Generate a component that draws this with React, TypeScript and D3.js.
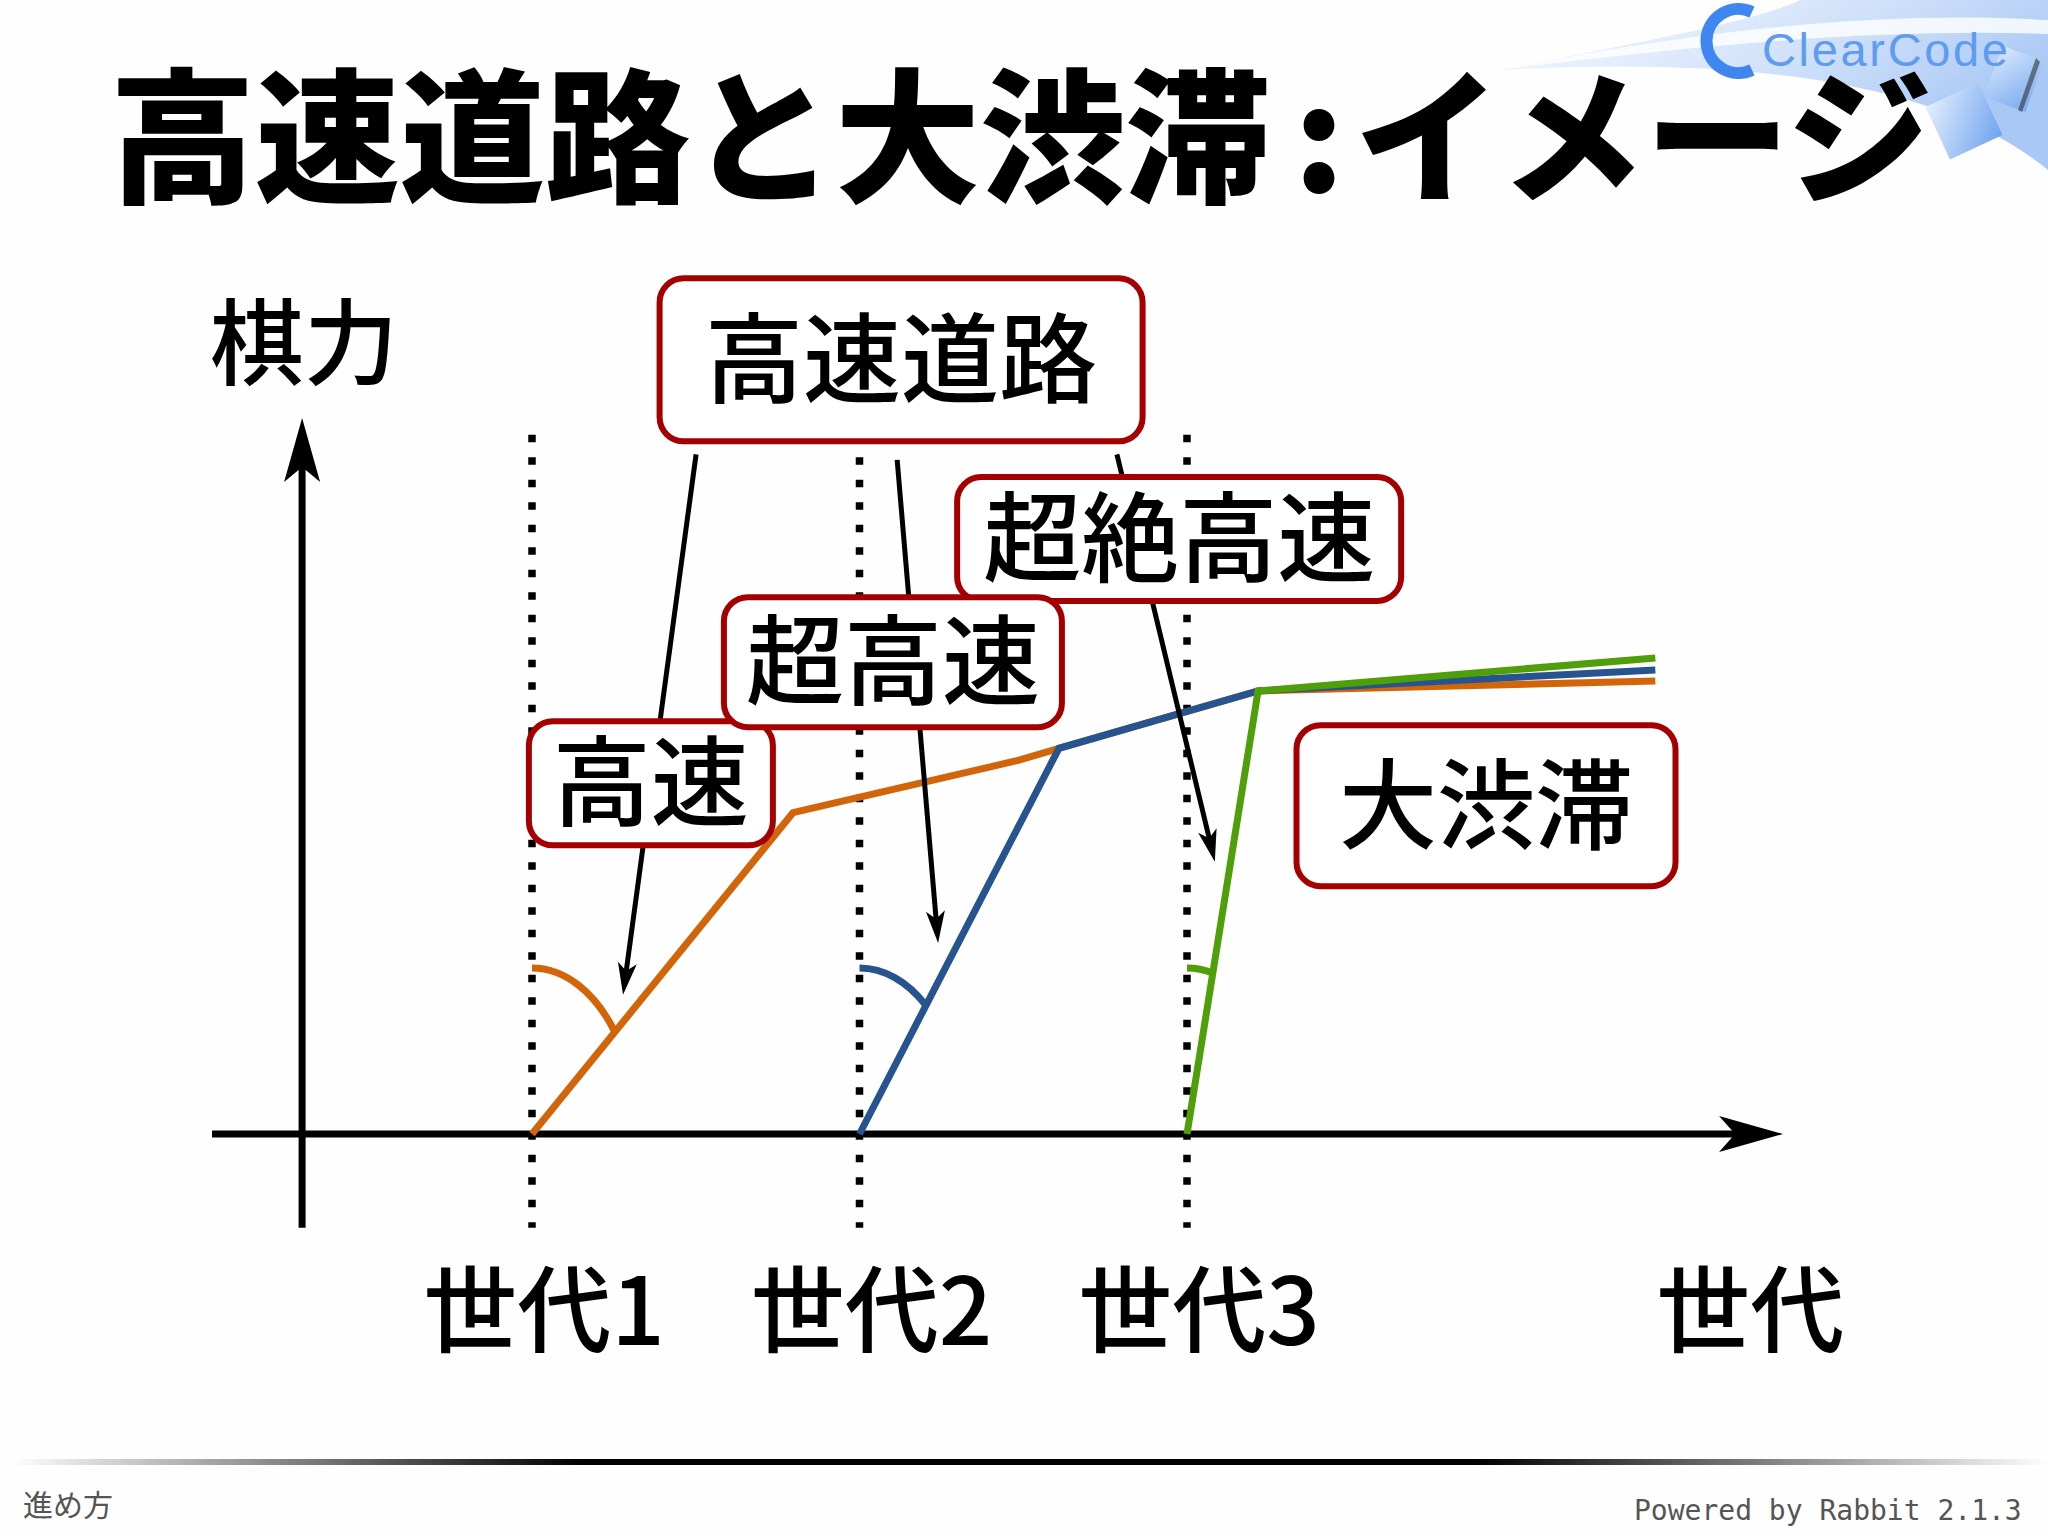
import React from "react";
import * as d3 from "d3";

// ---- data ----
const generations = [1, 2, 3];
const genLabels = ["世代1", "世代2", "世代3"];
const axisLabelX = "世代";
const axisLabelY = "棋力";

const seriesNames = ["高速", "超高速", "超絶高速"];
const orangeX = [1, 1.797, 2.487, 2.609, 3.217, 4.43];
const orangeY = [0, 45.9, 53.4, 55.1, 63.3, 64.7];
const blueX = [2, 2.609, 3.217, 4.43];
const blueY = [0, 55.1, 63.3, 66.3];
const greenX = [3, 3.217, 4.43];
const greenY = [0, 63.3, 68.0];

// callout boxes (centre in data units)
const calloutText = ["高速道路", "超絶高速", "超高速", "高速", "大渋滞"];
const calloutCX = [2.127, 2.976, 2.102, 1.363, 3.913];
const calloutCY = [110.6, 85.0, 67.4, 50.1, 46.9];
// arrows from 高速道路 to angle marks (data units)
const arrowFromX = [1.501, 2.115, 2.786];
const arrowFromY = [97.1, 96.3, 97.1];
const arrowToX = [1.278, 2.24, 3.085];
const arrowToY = [19.9, 27.3, 38.9];

// ---- layout / style ----
const W = 2048;
const H = 1536;
const colors = ["#d2640a", "#27538f", "#4f9e0a"];
const boxW = [483, 444, 338, 244, 379];
const boxH = [163, 124, 130, 124, 161];
const CJK = "'Noto Sans CJK JP', 'Noto Sans CJK SC', sans-serif";

const xScale = d3.scaleLinear().domain([1, 3]).range([532, 1187]);
const yScale = d3.scaleLinear().domain([0, 100]).range([1134, 434]);

function arrowHead(tx: number, ty: number, ux: number, uy: number, len: number, half: number, notch: number) {
  const px = -uy;
  const py = ux;
  const bx = tx - ux * len;
  const by = ty - uy * len;
  const nx = tx - ux * (len - notch);
  const ny = ty - uy * (len - notch);
  return `M${tx},${ty} L${bx + px * half},${by + py * half} L${nx},${ny} L${bx - px * half},${by - py * half} Z`;
}

export default function App() {
  const line = d3
    .line<[number, number]>()
    .x((d) => xScale(d[0]))
    .y((d) => yScale(d[1]));

  const series = [
    { xs: orangeX, ys: orangeY },
    { xs: blueX, ys: blueY },
    { xs: greenX, ys: greenY },
  ].map((s) => s.xs.map((x, i) => [x, s.ys[i]] as [number, number]));

  const rx = 105;
  const ry = 166;
  const arcs = series.map((pts) => {
    const x0 = xScale(pts[0][0]);
    const y0 = yScale(pts[0][1]);
    const dx = xScale(pts[1][0]) - x0;
    const dy = yScale(pts[1][1]) - y0;
    const t = 1 / Math.sqrt((dx / rx) ** 2 + (dy / ry) ** 2);
    const ex = x0 + dx * t;
    const ey = y0 + dy * t;
    return `M${x0},${y0 - ry} A${rx},${ry} 0 0 1 ${ex},${ey}`;
  });

  const arrows = arrowFromX.map((x, i) => {
    const x1 = xScale(x);
    const y1 = yScale(arrowFromY[i]);
    const x2 = xScale(arrowToX[i]);
    const y2 = yScale(arrowToY[i]);
    const L = Math.hypot(x2 - x1, y2 - y1);
    const ux = (x2 - x1) / L;
    const uy = (y2 - y1) / L;
    return {
      x1,
      y1,
      x2: x2 - ux * 20,
      y2: y2 - uy * 20,
      head: arrowHead(x2, y2, ux, uy, 32, 9.5, 8),
    };
  });

  const yAxisX = xScale(0.298);
  const yTip = yScale(102.3);
  const xTip = xScale(4.82);
  const x0y = yScale(0);

  return (
    <svg
      width={W}
      height={H}
      viewBox={`0 0 ${W} ${H}`}
      style={{ position: "absolute", left: 0, top: 0, background: "#fefefe" }}
    >
      <defs>
        <linearGradient id="footline" x1="0" x2="1" y1="0" y2="0">
          <stop offset="0" stopColor="#000" stopOpacity="0" />
          <stop offset="0.28" stopColor="#000" stopOpacity="1" />
          <stop offset="0.72" stopColor="#000" stopOpacity="1" />
          <stop offset="1" stopColor="#000" stopOpacity="0" />
        </linearGradient>
        <linearGradient id="swoosh" x1="0" x2="1" y1="0" y2="0.4">
          <stop offset="0" stopColor="#dce8fb" stopOpacity="0" />
          <stop offset="0.5" stopColor="#cfe0fa" stopOpacity="0.7" />
          <stop offset="1" stopColor="#a9c8f5" stopOpacity="1" />
        </linearGradient>
        <linearGradient id="sq" x1="0" x2="1" y1="0" y2="1">
          <stop offset="0" stopColor="#e3eefd" />
          <stop offset="1" stopColor="#6fa3f0" />
        </linearGradient>
      </defs>

      {/* logo background swoosh */}
      <path
        d="M1380,0 L2048,0 L2048,170 C1950,90 1780,55 1500,70 C1650,40 1760,20 1800,0 Z"
        fill="url(#swoosh)"
      />
      <path
        d="M1500,70 C1700,30 1880,10 2048,20 L2048,34 C1880,28 1700,45 1500,70 Z"
        fill="#ffffff"
        opacity={0.8}
      />
      <g>
        <rect x={1935} y={92} width={58} height={58} fill="url(#sq)" transform="rotate(-25 1964 121)" />
        <rect x={1992} y={52} width={44} height={54} fill="url(#sq)" opacity={0.8} transform="rotate(20 2014 79)" />
        <path d="M2036,58 L2018,110 L2022,112 L2040,62 Z" fill="#333" opacity={0.6} />
        <path d="M1752,12 A32,32 0 1 0 1752,70" fill="none" stroke="#3f86f0" strokeWidth={12} />
        <text
          x={1762}
          y={66}
          fontFamily="'Liberation Sans', Arial, sans-serif"
          fontSize={47}
          textLength={246}
          lengthAdjust="spacing"
          fill="#5e9cf0"
        >
          ClearCode
        </text>
      </g>

      {/* title */}
      <text y={192} fontFamily={CJK} fontWeight={900} fontSize={145} fill="#000">
        <tspan x={110}>高速道路と大渋滞</tspan>
        <tspan x={1319} textAnchor="middle">:</tspan>
        <tspan x={1355}>イメージ</tspan>
      </text>

      {/* dotted generation lines */}
      {generations.map((g) => (
        <line
          key={"g" + g}
          x1={xScale(g)}
          x2={xScale(g)}
          y1={yScale(99.9)}
          y2={yScale(-13.4)}
          stroke="#000"
          strokeWidth={7.5}
          strokeDasharray="7.5 15"
        />
      ))}

      {/* axes */}
      <line x1={yAxisX} x2={yAxisX} y1={yScale(-13.4)} y2={yTip + 40} stroke="#000" strokeWidth={7} />
      <path d={arrowHead(yAxisX, yTip, 0, -1, 64, 18, 15)} fill="#000" />
      <line x1={xScale(0.023)} x2={xTip - 40} y1={x0y} y2={x0y} stroke="#000" strokeWidth={7} />
      <path d={arrowHead(xTip, x0y, 1, 0, 64, 18, 16)} fill="#000" />

      {/* series */}
      {series.map((pts, i) => (
        <path
          key={seriesNames[i]}
          d={line(pts) || ""}
          fill="none"
          stroke={colors[i]}
          strokeWidth={7}
          strokeLinejoin="miter"
        />
      ))}
      {arcs.map((d, i) => (
        <path key={"arc" + i} d={d} fill="none" stroke={colors[i]} strokeWidth={7} />
      ))}

      {/* arrows */}
      {arrows.map((a, i) => (
        <g key={"ar" + i}>
          <line x1={a.x1} y1={a.y1} x2={a.x2} y2={a.y2} stroke="#000" strokeWidth={5} />
          <path d={a.head} fill="#000" />
        </g>
      ))}

      {/* callouts */}
      {[0, 1, 3, 2, 4].map((i) => {
        const cx = xScale(calloutCX[i]);
        const cy = yScale(calloutCY[i]);
        return (
          <g key={"c" + i}>
            <rect
              x={cx - boxW[i] / 2}
              y={cy - boxH[i] / 2}
              width={boxW[i]}
              height={boxH[i]}
              rx={24}
              ry={24}
              fill="#fff"
              stroke="#a40000"
              strokeWidth={6}
            />
            <text
              x={cx}
              y={cy + 35}
              textAnchor="middle"
              fontFamily={CJK}
              fontWeight={500}
              fontSize={98}
              fill="#000"
            >
              {calloutText[i]}
            </text>
          </g>
        );
      })}

      {/* axis labels */}
      <text x={210} y={378} fontFamily={CJK} fontWeight={500} fontSize={94} fill="#000">
        {axisLabelY}
      </text>
      {generations.map((g, i) => (
        <text
          key={"gl" + g}
          x={xScale(g) + 12}
          y={1345}
          textAnchor="middle"
          fontFamily={CJK}
          fontWeight={500}
          fontSize={94}
          fill="#000"
        >
          {genLabels[i]}
        </text>
      ))}
      <text x={xScale(4.72)} y={1345} textAnchor="middle" fontFamily={CJK} fontWeight={500} fontSize={94} fill="#000">
        {axisLabelX}
      </text>

      {/* footer */}
      <rect x={12} y={1459} width={2036} height={6} fill="url(#footline)" />
      <text x={23} y={1516} fontFamily={CJK} fontSize={30} fill="#555">
        進め方
      </text>
      <text x={1634} y={1520} fontFamily="'DejaVu Sans Mono', monospace" fontSize={28} fill="#555">
        Powered by Rabbit 2.1.3
      </text>
    </svg>
  );
}
